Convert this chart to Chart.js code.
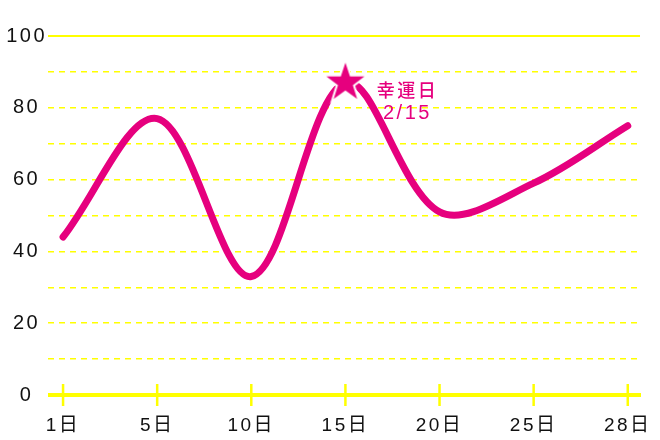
<!DOCTYPE html>
<html lang="ja">
<head>
<meta charset="utf-8">
<title>幸運日チャート</title>
<script src="https://cdn.jsdelivr.net/npm/chart.js@4.4.1/dist/chart.umd.min.js"></script>
<style>
  html, body { margin: 0; padding: 0; background: #fff; }
</style>
</head>
<body>
<canvas id="luck-chart" width="660" height="440"></canvas>
<script>
// Days on the x axis
const days = ['1日', '5日', '10日', '15日', '20日', '25日', '28日'];
// Score for each day
const scores = [44, 77, 33, 87, 51, 59, 75];
// Y values that carry a label (grid lines run every 10)
const yLabels = [0, 20, 40, 60, 80, 100];
// The lucky day and the note drawn next to it
const luckyIndex = 3;
const luckyNote = ['幸運日', '2/15'];

const PINK = '#e6007e';
const YELLOW = '#ffff00';
const INK = '#111111';
const FONT = "'Liberation Sans', 'Noto Sans CJK JP', sans-serif";

// Filled five point star used as the image for the lucky point
function makeStar(outer, inner) {
    const size = Math.ceil(outer * 2 + 10);
    const c = document.createElement('canvas');
    c.width = size;
    c.height = size;
    const g = c.getContext('2d');
    const cx = size / 2, cy = size / 2;
    g.beginPath();
    for (let i = 0; i < 10; i++) {
        const r = i % 2 === 0 ? outer : inner;
        const a = -Math.PI / 2 + i * Math.PI / 5;
        g.lineTo(cx + r * Math.cos(a), cy + r * Math.sin(a));
    }
    g.closePath();
    g.strokeStyle = '#ffffff';
    g.lineWidth = 4;
    g.stroke();
    g.fillStyle = PINK;
    g.fill();
    return c;
}
const star = makeStar(20, 7.8);

// Letter spacing gets reset whenever the canvas is resized, so set it again before layout and draw
function spaceLetters(chart) {
    if ('letterSpacing' in chart.ctx) chart.ctx.letterSpacing = '2.5px';
}

// Solid top line, thick base line with ticks, and the lucky-day note
const axisDecor = {
    id: 'axisDecor',
    beforeLayout: spaceLetters,
    beforeDraw: spaceLetters,
    beforeDatasetsDraw(chart) {
        const { ctx, chartArea, scales: { x, y } } = chart;
        ctx.save();
        ctx.strokeStyle = YELLOW;

        const yTop = y.getPixelForValue(100);
        ctx.lineWidth = 2;
        ctx.beginPath();
        ctx.moveTo(chartArea.left, yTop);
        ctx.lineTo(chartArea.right, yTop);
        ctx.stroke();

        const y0 = y.getPixelForValue(0);
        ctx.lineWidth = 4;
        ctx.beginPath();
        ctx.moveTo(chartArea.left, y0);
        ctx.lineTo(chartArea.right + 1, y0);
        ctx.stroke();

        ctx.lineWidth = 2.5;
        ctx.beginPath();
        x.ticks.forEach((t) => {
            const px = x.getPixelForValue(t.value);
            ctx.moveTo(px, y0 - 11);
            ctx.lineTo(px, y0 + 11);
        });
        ctx.stroke();
        ctx.restore();
    },
    afterDatasetsDraw(chart) {
        const pt = chart.getDatasetMeta(0).data[luckyIndex];
        if (!pt) return;
        const ctx = chart.ctx;
        ctx.save();
        ctx.fillStyle = PINK;
        ctx.textAlign = 'center';
        ctx.textBaseline = 'middle';
        ctx.font = "500 18px 'Noto Sans CJK JP', sans-serif";
        ctx.fillText(luckyNote[0], pt.x + 62, pt.y + 7);
        ctx.font = '20px ' + FONT;
        ctx.fillText(luckyNote[1], pt.x + 62, pt.y + 31);
        ctx.restore();
    }
};

const luckChart = new Chart(document.getElementById('luck-chart').getContext('2d'), {
    type: 'line',
    data: {
        datasets: [{
            data: scores.map((v, i) => ({ x: i, y: v })),
            borderColor: PINK,
            borderWidth: 7,
            borderCapStyle: 'round',
            borderJoinStyle: 'round',
            tension: 0.34,
            fill: false,
            pointRadius: (c) => c.dataIndex === luckyIndex ? 18 : 0,
            pointStyle: (c) => c.dataIndex === luckyIndex ? star : 'circle',
            pointHoverRadius: 0
        }]
    },
    options: {
        responsive: false,
        animation: false,
        layout: { padding: { top: 36, right: 20, left: 0, bottom: 0 } },
        plugins: {
            legend: { display: false },
            tooltip: { enabled: false }
        },
        scales: {
            x: {
                type: 'linear',
                min: -0.16,
                max: 6.13,
                grid: { display: false, drawTicks: false },
                border: { display: false },
                afterBuildTicks: (s) => { s.ticks = days.map((d, i) => ({ value: i })); },
                afterFit: (s) => {
                    s.height = 45;
                    s.paddingLeft = 0;
                    s.paddingRight = 0;
                },
                ticks: {
                    autoSkip: false,
                    maxRotation: 0,
                    padding: 19,
                    color: INK,
                    font: { size: 19, family: FONT },
                    callback: (v) => days[v]
                }
            },
            y: {
                min: 0,
                max: 100,
                grid: { color: YELLOW, lineWidth: 1.5, drawTicks: false },
                border: { display: false, dash: [6, 5] },
                afterFit: (s) => { s.width = 48; },
                ticks: {
                    stepSize: 10,
                    padding: 1,
                    crossAlign: 'center',
                    color: INK,
                    font: { size: 20, family: FONT },
                    callback: (v) => yLabels.includes(v) ? v : ''
                }
            }
        }
    },
    plugins: [axisDecor]
});
</script>
</body>
</html>
